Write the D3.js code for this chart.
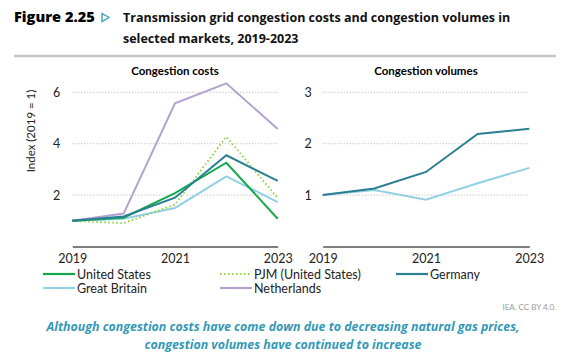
<!DOCTYPE html>
<html>
<head>
<meta charset="utf-8">
<script src="https://cdn.jsdelivr.net/npm/d3@7"></script>
<style>
  body { margin: 0; background: #fff; }
  svg text { font-family: Lato, "Open Sans", sans-serif; }
</style>
</head>
<body>
<div id="chart"></div>
<script>
// data
const years = [2019, 2020, 2021, 2022, 2023]
const costUS = [1, 1.12, 2.08, 3.26, 1.08]
const costPJM = [1, 0.91, 1.63, 4.27, 1.89]
const costGermany = [1, 1.17, 1.9, 3.55, 2.55]
const costGB = [1, 1.08, 1.5, 2.73, 1.73]
const costNL = [1, 1.28, 5.57, 6.35, 4.57]
const volGermany = [1, 1.13, 1.45, 2.19, 2.29]
const volGB = [1, 1.1, 0.91, 1.23, 1.53]
const costTicks = [2, 4, 6]
const volTicks = [1, 2, 3]
const xTicks = [2019, 2021, 2023]

const colors = {
    us: "#13a84c",
    pjm: "#8ed34a",
    germany: "#2a7f92",
    gb: "#92d0e2",
    nl: "#b3a2cf"
}

const width = 567, height = 353
const svg = d3.select("#chart").append("svg")
    .attr("width", width)
    .attr("height", height)

// header
svg.append("text").attr("x", 14).attr("y", 22)
    .style("font-family", "'Open Sans', sans-serif").style("font-weight", 800)
    .style("font-size", "14.6px").text("Figure 2.25")
svg.append("path").attr("d", "M102,13.5 L109,17.5 L102,21.5 Z")
    .attr("fill", "none").attr("stroke", "#3aa3bf").attr("stroke-width", 1.4)
const head = svg.append("text")
    .style("font-family", "'Open Sans', sans-serif").style("font-weight", 700)
    .style("font-size", "12.5px").attr("fill", "#111")
head.append("tspan").attr("x", 123).attr("y", 22).text("Transmission grid congestion costs and congestion volumes in")
head.append("tspan").attr("x", 123).attr("y", 43).text("selected markets, 2019-2023")
svg.append("line").attr("x1", 14).attr("x2", 556).attr("y1", 56).attr("y2", 56)
    .attr("stroke", "#c4c4c4").attr("stroke-width", 2.5)

function panel(opts) {
    let g = svg.append("g")
    let x = d3.scaleLinear().domain([2019, 2023]).range(opts.xr)
    let y = d3.scaleLinear().domain(opts.yd).range([246.5, 92.3])

    g.append("text").attr("x", (opts.xr[0] + opts.xr[1]) / 2).attr("y", 75)
        .attr("text-anchor", "middle").style("font-weight", 700).style("font-size", "11.5px")
        .text(opts.title)

    // dotted grid
    g.selectAll(".grid").data(opts.ticks).join("line")
        .attr("x1", opts.xr[0]).attr("x2", opts.xr[1])
        .attr("y1", d => y(d)).attr("y2", d => y(d))
        .attr("stroke", "#b0b0b0").attr("stroke-width", 1).attr("stroke-dasharray", "1,2")

    let yAxis = d3.axisLeft(y).tickValues(opts.ticks).tickFormat(d3.format("d"))
        .tickSize(0).tickPadding(opts.xr[0] - opts.labelX)
    g.append("g").attr("transform", `translate(${opts.xr[0]},0)`).call(yAxis)
        .call(a => a.select(".domain").remove())
        .call(a => a.selectAll("text").style("font-size", "12.5px").style("font-family", "Lato, sans-serif").attr("fill", "#222").attr("text-anchor", "middle"))

    let xAxis = d3.axisBottom(x).tickValues(xTicks).tickFormat(d3.format("d")).tickSize(0).tickPadding(8)
    g.append("g").attr("transform", "translate(0,246.5)").call(xAxis)
        .call(a => a.select(".domain").attr("stroke", "#555").attr("stroke-width", 1.6))
        .call(a => a.selectAll("text").style("font-size", "12.5px").style("font-family", "Lato, sans-serif").attr("fill", "#222"))

    let line = d3.line().x((d, i) => x(years[i])).y(d => y(d))
    opts.series.forEach(s => {
        g.append("path").datum(s.values)
            .attr("d", line)
            .attr("fill", "none")
            .attr("stroke", s.color)
            .attr("stroke-width", 2)
            .attr("stroke-dasharray", s.dash || null)
    })
}

panel({
    title: "Congestion costs",
    xr: [72.3, 277.7],
    yd: [0, 6],
    ticks: costTicks,
    labelX: 56.5,
    series: [
        {values: costGB, color: colors.gb},
        {values: costNL, color: colors.nl},
        {values: costPJM, color: colors.pjm, dash: "1.5,2.5"},
        {values: costUS, color: colors.us},
        {values: costGermany, color: colors.germany}
    ]
})

panel({
    title: "Congestion volumes",
    xr: [322.7, 529.3],
    yd: [0, 3],
    ticks: volTicks,
    labelX: 308,
    series: [
        {values: volGB, color: colors.gb},
        {values: volGermany, color: colors.germany}
    ]
})

// y axis title
svg.append("text").attr("transform", "translate(35,131) rotate(-90)")
    .attr("text-anchor", "middle").style("font-size", "11.5px").attr("fill", "#222")
    .text("Index (2019 = 1)")

// legend
const legend = [
    {name: "United States", color: colors.us, x: 43, y: 274},
    {name: "PJM (United States)", color: colors.pjm, x: 220, y: 274, dash: "1.5,2.5"},
    {name: "Germany", color: colors.germany, x: 396, y: 274},
    {name: "Great Britain", color: colors.gb, x: 43, y: 288},
    {name: "Netherlands", color: colors.nl, x: 220, y: 288}
]
const lg = svg.append("g").selectAll("g").data(legend).join("g")
    .attr("transform", d => `translate(${d.x},${d.y})`)
lg.append("line").attr("x1", 0).attr("x2", 32).attr("y1", 0).attr("y2", 0)
    .attr("stroke", d => d.color).attr("stroke-width", 2.2)
    .attr("stroke-dasharray", d => d.dash || null)
lg.append("text").attr("x", 34).attr("y", 4.5)
    .style("font-size", "12.5px").attr("fill", "#222").text(d => d.name)

svg.append("text").attr("x", 556).attr("y", 310).attr("text-anchor", "end")
    .style("font-size", "8px").attr("fill", "#9a9a9a").text("IEA. CC BY 4.0.")

const cap = svg.append("text").attr("text-anchor", "middle")
    .style("font-family", "'Open Sans', sans-serif").style("font-style", "italic")
    .style("font-weight", 700).style("font-size", "12.4px").attr("fill", "#3399b8")
cap.append("tspan").attr("x", 283).attr("y", 331).text("Although congestion costs have come down due to decreasing natural gas prices,")
cap.append("tspan").attr("x", 283).attr("y", 349).text("congestion volumes have continued to increase")
</script>
</body>
</html>
